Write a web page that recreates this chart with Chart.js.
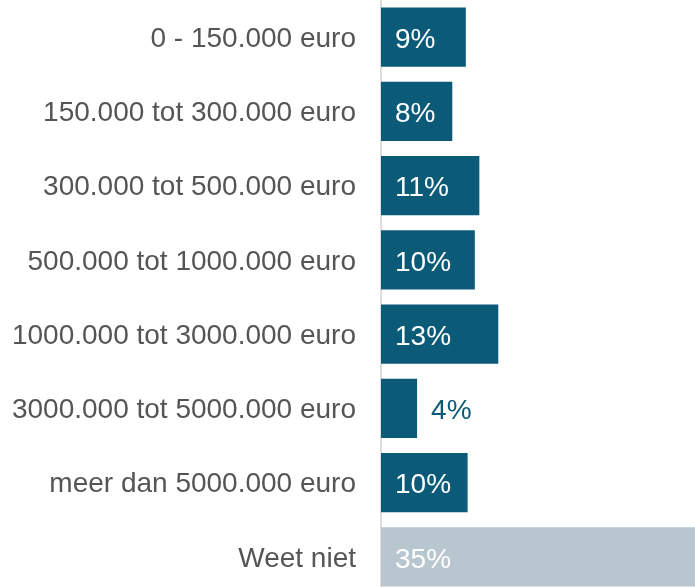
<!DOCTYPE html>
<html>
<head>
<meta charset="utf-8">
<script src="https://cdn.jsdelivr.net/npm/chart.js@4.4.0/dist/chart.umd.min.js"></script>
<style>
    html, body { margin: 0; padding: 0; background: #fff; overflow: hidden; }
    #wrap { width: 695px; height: 594px; position: relative; }
</style>
</head>
<body>
<div id="wrap"><canvas id="chart"></canvas></div>
<script>
// data
var categories = [
    "0 - 150.000 euro",
    "150.000 tot 300.000 euro",
    "300.000 tot 500.000 euro",
    "500.000 tot 1000.000 euro",
    "1000.000 tot 3000.000 euro",
    "3000.000 tot 5000.000 euro",
    "meer dan 5000.000 euro",
    "Weet niet"
];
var shares = [9.4, 7.9, 10.9, 10.4, 13.0, 4.0, 9.6, 35];
var shareLabels = ["9%", "8%", "11%", "10%", "13%", "4%", "10%", "35%"];

var dark = "#0b5a78";
var light = "#b8c6d0";
var barColors = shares.map(function (v, i) {
    return i === categories.length - 1 ? light : dark;
});

// value labels inside the bar, or just after it when the bar is short
var valueLabels = {
    id: "valueLabels",
    afterDatasetsDraw: function (chart) {
        var ctx = chart.ctx;
        var meta = chart.getDatasetMeta(0);
        ctx.save();
        ctx.font = "28px 'Liberation Sans', Arial, sans-serif";
        ctx.textBaseline = "middle";
        ctx.textAlign = "left";
        meta.data.forEach(function (bar, i) {
            var x, color;
            if (shares[i] < 6) {
                x = bar.x + 14;
                color = dark;
            } else {
                x = bar.base + 14;
                color = "#ffffff";
            }
            ctx.fillStyle = color;
            ctx.fillText(shareLabels[i], x, bar.y + 3);
        });
        ctx.restore();
    },
};

var ctx = document.getElementById("chart").getContext("2d");
var myChart = new Chart(ctx, {
    type: "bar",
    data: {
        labels: categories,
        datasets: [
            {
                data: shares,
                backgroundColor: barColors,
                borderWidth: 0,
                barPercentage: 0.8,
                categoryPercentage: 1.0,
            },
        ],
    },
    options: {
        indexAxis: "y",
        responsive: true,
        maintainAspectRatio: false,
        animation: false,
        layout: { padding: 0 },
        scales: {
            x: {
                display: false,
                min: 0,
                max: 34.8,
            },
            y: {
                afterFit: function (scale) {
                    scale.width = 381;
                    // tick padding should not push the plot down
                    scale.paddingTop = 0;
                    scale.paddingBottom = 0;
                },
                grid: { display: false, drawTicks: false },
                border: { display: true, color: "#dddddd", width: 2 },
                ticks: {
                    padding: 25,
                    labelOffset: 2,
                    color: "#555555",
                    font: { family: "'Liberation Sans', Arial, sans-serif", size: 28 },
                },
            },
        },
        plugins: {
            legend: { display: false },
            tooltip: { enabled: false },
        },
    },
    plugins: [valueLabels],
});
</script>
</body>
</html>
